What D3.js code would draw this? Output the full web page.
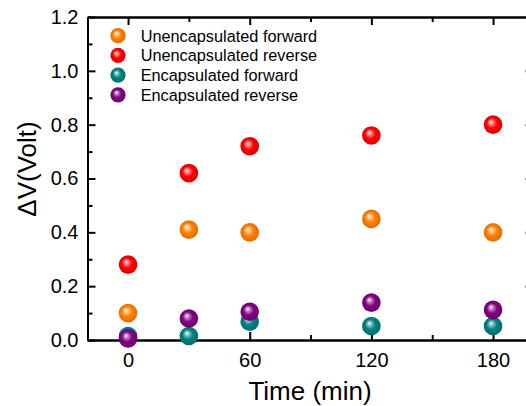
<!DOCTYPE html>
<html>
<head>
<meta charset="utf-8">
<script src="https://cdn.jsdelivr.net/npm/d3@7"></script>
<style>
  body { margin: 0; background: #fff; }
  svg { font-family: "Liberation Sans", Arial, sans-serif; }
</style>
</head>
<body>
<svg width="526" height="406"></svg>
<script>
var times = [0, 30, 60, 120, 180];
var seriesNames = ["Unencapsulated forward", "Unencapsulated reverse", "Encapsulated forward", "Encapsulated reverse"];
var seriesColors = ["#ff8000", "#ff0000", "#008080", "#800080"];
var unencapForward = [0.10, 0.41, 0.40, 0.45, 0.40];
var unencapReverse = [0.28, 0.62, 0.72, 0.76, 0.80];
var encapForward = [0.015, 0.015, 0.068, 0.052, 0.052];
var encapReverse = [0.006, 0.08, 0.105, 0.139, 0.112];
var xTicks = [0, 60, 120, 180];
var xMinor = [30, 90, 150];
var yTicks = [0, 0.2, 0.4, 0.6, 0.8, 1.0, 1.2];
var yMinor = [0.1, 0.3, 0.5, 0.7, 0.9, 1.1];

var allSeries = [unencapForward, unencapReverse, encapForward, encapReverse];

var svg = d3.select("svg");
var plotLeft = 87.5, plotRight = 533.6, plotTop = 17, plotBottom = 340;

var x = d3.scaleLinear().domain([-20, 200]).range([plotLeft, plotRight]);
var y = d3.scaleLinear().domain([0, 1.2]).range([plotBottom, plotTop]);

// sphere gradients
var defs = svg.append("defs");
seriesColors.forEach(function (c, i) {
    var g = defs.append("radialGradient")
        .attr("id", "ball" + i)
        .attr("cx", "50%").attr("cy", "50%").attr("r", "55%")
        .attr("fx", "38%").attr("fy", "34%");
    var base = d3.color(c);
    g.append("stop").attr("offset", "0%").attr("stop-color", "#ffffff");
    g.append("stop").attr("offset", "16%").attr("stop-color", d3.interpolateRgb("#ffffff", c)(0.4));
    g.append("stop").attr("offset", "50%").attr("stop-color", c);
    g.append("stop").attr("offset", "100%").attr("stop-color", base.darker(0.5));
});

function styleAxis(g) {
    g.selectAll("path, line").attr("stroke", "#000").attr("stroke-width", 2);
    g.selectAll("text").attr("fill", "#000").attr("font-size", "20px")
        .attr("font-family", "Liberation Sans, Arial, sans-serif");
}

// bottom
svg.append("g").attr("transform", "translate(0," + plotBottom + ")")
    .call(d3.axisBottom(x).tickValues(xTicks).tickSize(-8).tickSizeOuter(0).tickPadding(13)
        .tickFormat(d3.format("d")))
    .call(styleAxis);
svg.append("g").attr("transform", "translate(0," + plotBottom + ")")
    .call(d3.axisBottom(x).tickValues(xMinor).tickSize(-5).tickSizeOuter(0).tickFormat(""))
    .call(styleAxis);
// top
svg.append("g").attr("transform", "translate(0," + plotTop + ")")
    .call(d3.axisTop(x).tickValues(xTicks).tickSize(-8).tickSizeOuter(0).tickFormat(""))
    .call(styleAxis);
svg.append("g").attr("transform", "translate(0," + plotTop + ")")
    .call(d3.axisTop(x).tickValues(xMinor).tickSize(-5).tickSizeOuter(0).tickFormat(""))
    .call(styleAxis);
// left
svg.append("g").attr("transform", "translate(" + plotLeft + ",0)")
    .call(d3.axisLeft(y).tickValues(yTicks).tickSize(-8).tickSizeOuter(0).tickPadding(9)
        .tickFormat(d3.format(".1f")))
    .call(styleAxis);
svg.append("g").attr("transform", "translate(" + plotLeft + ",0)")
    .call(d3.axisLeft(y).tickValues(yMinor).tickSize(-5).tickSizeOuter(0).tickFormat(""))
    .call(styleAxis);
// right
svg.append("g").attr("transform", "translate(" + plotRight + ",0)")
    .call(d3.axisRight(y).tickValues(yTicks).tickSize(-8).tickSizeOuter(0).tickFormat(""))
    .call(styleAxis);

// points
allSeries.forEach(function (vals, i) {
    svg.append("g").selectAll("circle")
        .data(vals)
        .enter()
        .append("circle")
        .attr("cx", function (d, j) { return x(times[j]); })
        .attr("cy", function (d) { return y(d); })
        .attr("r", 9.3)
        .attr("fill", "url(#ball" + i + ")");
});

// legend
var legend = svg.append("g").attr("transform", "translate(118,35.7)");
seriesNames.forEach(function (name, i) {
    var row = legend.append("g").attr("transform", "translate(0," + (i * 19.7) + ")");
    row.append("circle").attr("r", 7.6).attr("fill", "url(#ball" + i + ")");
    row.append("text").attr("x", 22.7).attr("y", 5.8)
        .attr("font-size", "16.3px").attr("fill", "#000").text(name);
});

// axis titles
svg.append("text")
    .attr("x", 310).attr("y", 400)
    .attr("text-anchor", "middle")
    .attr("font-size", "26px")
    .text("Time (min)");

svg.append("text")
    .attr("transform", "translate(36,169) rotate(-90)")
    .attr("text-anchor", "middle")
    .attr("font-size", "26px")
    .text("ΔV(Volt)");
</script>
</body>
</html>
